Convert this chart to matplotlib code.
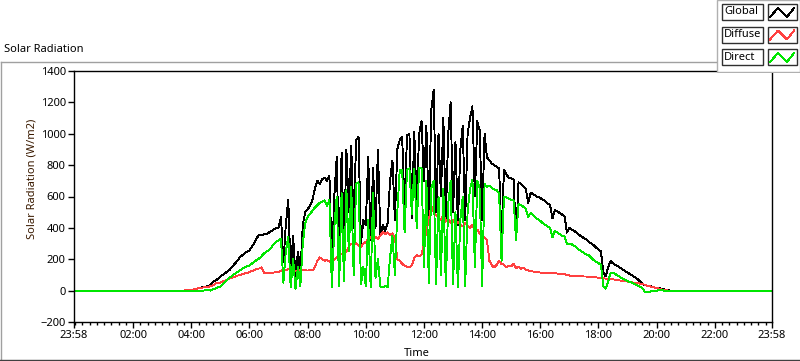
import matplotlib
matplotlib.use("Agg")
import matplotlib.pyplot as plt
from matplotlib.patches import Rectangle
from matplotlib.lines import Line2D
import numpy as np

# 5 minute samples, 03:00 .. 20:55, one row per hour (W/m2)
global_rad = [
    0, 0, 0, 0, 0, 0, 0, 0, 0, 0, 3, 5,                                  # 03
    6, 8, 12, 15, 19, 22, 26, 30, 35, 55, 65, 75,                         # 04
    90, 100, 112, 124, 135, 155, 172, 190, 212, 225, 238, 248,            # 05
    257, 280, 305, 335, 355, 352, 360, 362, 370, 380, 390, 400,           # 06
    400, 470, 180, 420, 580, 120, 350, 90, 250, 110, 420, 500,            # 07
    520, 540, 580, 650, 700, 680, 710, 720, 700, 730, 150, 600,           # 08
    850, 120, 880, 250, 900, 500, 920, 400, 960, 980, 300, 450,           # 09
    420, 850, 320, 780, 400, 900, 350, 420, 380, 430, 700, 830,           # 10
    450, 900, 960, 980, 520, 990, 1000, 460, 1010, 550, 1000, 1080,       # 11
    700, 1050, 450, 1150, 1280, 500, 1000, 600, 1100, 450, 1000, 1200,    # 12
    500, 950, 420, 900, 1050, 450, 1000, 1100, 1175, 600, 1080, 1020,     # 13
    450, 1000, 850, 830, 810, 800, 790, 780, 330, 770, 740, 720,          # 14
    715, 710, 320, 690, 680, 665, 650, 560, 625, 615, 605, 597,           # 15
    590, 580, 570, 555, 548, 460, 515, 505, 495, 485, 475, 370,           # 16
    400, 390, 380, 370, 355, 345, 335, 325, 310, 300, 290, 275,           # 17
    262, 250, 120, 90, 150, 190, 173, 165, 155, 145, 135, 125,            # 18
    115, 105, 95, 85, 75, 60, 45, 35, 32, 30, 25, 20,                     # 19
    18, 15, 12, 8, 5, 2, 0, 0, 0, 0, 0, 0,                                # 20
]

diffuse_rad = [
    0, 0, 0, 0, 0, 0, 0, 0, 0, 0, 3, 5,                                  # 03
    6, 8, 12, 15, 18, 20, 22, 25, 28, 35, 45, 50,                         # 04
    51, 58, 65, 72, 78, 83, 88, 95, 100, 105, 109, 112,                   # 05
    118, 125, 132, 138, 141, 148, 115, 112, 109, 112, 115, 118,           # 06
    120, 125, 135, 128, 140, 130, 135, 125, 130, 128, 135, 130,           # 07
    128, 130, 128, 150, 190, 212, 200, 190, 195, 185, 200, 195,           # 08
    212, 230, 237, 225, 250, 280, 300, 290, 302, 285, 276, 300,           # 09
    310, 330, 340, 320, 345, 330, 350, 372, 360, 372, 355, 365,           # 10
    340, 200, 193, 170, 160, 150, 148, 160, 210, 225, 220, 230,           # 11
    302, 380, 450, 540, 500, 480, 470, 450, 490, 440, 460, 430,           # 12
    450, 420, 440, 420, 410, 430, 415, 400, 420, 380, 390, 360,           # 13
    350, 340, 320, 190, 160, 148, 165, 190, 170, 165, 150, 160,           # 14
    155, 170, 145, 150, 140, 145, 135, 128, 125, 122, 120, 118,           # 15
    115, 114, 112, 112, 110, 112, 110, 109, 108, 108, 105, 100,           # 16
    96, 95, 94, 93, 92, 91, 90, 90, 88, 87, 86, 85,                       # 17
    82, 80, 78, 77, 76, 74, 72, 70, 67, 64, 62, 60,                       # 18
    58, 55, 52, 50, 48, 45, 42, 38, 32, 28, 24, 20,                       # 19
    17, 12, 8, 4, 2, 0, 0, 0, 0, 0, 0, 0,                                 # 20
]

direct_rad = [
    0, 0, 0, 0, 0, 0, 0, 0, 0, 0, 0, 0,                                  # 03
    0, 0, 0, 0, 0, 0, 3, 5, 0, 8, 15, 20,                                 # 04
    26, 40, 55, 70, 85, 96, 108, 118, 128, 138, 148, 155,                 # 05
    160, 172, 185, 195, 205, 220, 237, 250, 257, 275, 295, 310,           # 06
    320, 330, 50, 250, 340, 20, 200, 10, 150, 30, 300, 430,               # 07
    469, 490, 510, 530, 545, 560, 565, 575, 540, 578, 20, 400,            # 08
    600, 30, 620, 60, 640, 250, 660, 100, 680, 690, 40, 150,              # 09
    30, 450, 20, 620, 80, 200, 25, 20, 30, 20, 210, 350,                  # 10
    100, 500, 770, 770, 370, 770, 780, 490, 775, 400, 780, 780,           # 11
    150, 700, 50, 650, 700, 40, 600, 100, 650, 30, 550, 700,              # 12
    40, 500, 20, 450, 600, 30, 500, 650, 706, 150, 700, 650,              # 13
    30, 680, 660, 670, 655, 645, 640, 620, 190, 600, 595, 585,            # 14
    580, 575, 321, 555, 545, 535, 520, 470, 495, 480, 465, 455,           # 15
    445, 430, 420, 410, 400, 340, 380, 370, 360, 350, 345, 300,           # 16
    300, 295, 285, 275, 260, 250, 240, 230, 225, 210, 195, 185,           # 17
    175, 165, 30, 13, 60, 110, 115, 105, 95, 85, 78, 70,                  # 18
    62, 55, 48, 40, 32, 25, 19, -6, -10, -8, -3, 0,                       # 19
    0, 2, 3, 0, 0, 0, 0, 0, 0, 0, 0, 0,                                   # 20
]

series_names = ["Global", "Diffuse", "Direct"]
series_colors = ["#000000", "#ff4040", "#00e600"]

x_tick_hours = [-2 / 60, 2, 4, 6, 8, 10, 12, 14, 16, 18, 20, 22, 24 - 2 / 60]
x_tick_labels = ["23:58", "02:00", "04:00", "06:00", "08:00", "10:00", "12:00",
                 "14:00", "16:00", "18:00", "20:00", "22:00", "23:58"]
y_ticks = [-200, 0, 200, 400, 600, 800, 1000, 1200, 1400]

W, H = 800, 361
FS = 8


def fx(px):
    return px / W


def fy(py):
    return 1 - py / H


def main():
    plt.rcParams['font.family'] = ['Noto Sans', 'DejaVu Sans']
    fig = plt.figure(figsize=(W / 100, H / 100), dpi=100)

    # outer frame of the chart panel
    fig.add_artist(Line2D([fx(0.5), fx(716)], [fy(61.5), fy(61.5)], color="#a0a0a0", lw=1))
    fig.add_artist(Line2D([fx(0.5), fx(0.5)], [fy(61.5), fy(360)], color="#a0a0a0", lw=1))
    fig.add_artist(Line2D([fx(0), fx(800)], [fy(360), fy(360)], color="#404040", lw=1))
    fig.text(fx(4), fy(50), "Solar Radiation", fontsize=FS, va="center", ha="left")

    ax = fig.add_axes([fx(74), fy(322), fx(772 - 74), (322 - 71) / H])
    t = 3 + np.arange(len(global_rad)) * 5 / 60
    t = np.concatenate(([-2 / 60], t, [24 - 2 / 60]))
    for vals, name, col in zip([global_rad, diffuse_rad, direct_rad], series_names, series_colors):
        v = np.concatenate(([0], vals, [0]))
        ax.plot(t, v, color=col, lw=0.65, label=name, antialiased=False)

    ax.set_xlim(-2 / 60, 24 - 2 / 60)
    ax.set_ylim(-200, 1400)
    ax.set_yticks(y_ticks)
    ax.set_xticks(x_tick_hours)
    ax.set_xticklabels(x_tick_labels)
    ax.set_xticks(np.arange(0, 24, 0.25), minor=True)
    ax.tick_params(axis="both", which="major", direction="out", length=4, width=1,
                   labelsize=FS, pad=2)
    ax.tick_params(axis="x", which="minor", direction="out", length=2.5, width=1)
    for s in ax.spines.values():
        s.set_color("black")
        s.set_linewidth(1)

    fig.text(fx(417), fy(353), "Time", fontsize=FS, ha="center", va="center")
    fig.text(fx(32), fy(179), "Solar Radiation (W/m2)", fontsize=FS, rotation=90,
             ha="center", va="center", color="#3a1a00")

    # LabVIEW style plot legend in the top right corner
    lg = fig.add_axes([fx(716), fy(73), fx(84), 73 / H])
    lg.set_xlim(716, 800)
    lg.set_ylim(73, 0)
    lg.axis("off")
    lg.add_patch(Rectangle((717, 0), 83, 72, facecolor="white", edgecolor="#b0b0b0", lw=1))
    for i, (name, col) in enumerate(zip(series_names, series_colors)):
        top = 4 + i * 22.5
        lg.add_patch(Rectangle((722, top), 41, 16, facecolor="white", edgecolor="#303030", lw=1))
        lg.text(724, top + 8, name, fontsize=FS, va="center", ha="left")
        lg.add_patch(Rectangle((768, top), 29, 16, facecolor="white", edgecolor="#303030", lw=1))
        lg.plot([770, 778, 787, 794], [top + 13, top + 4, top + 13, top + 4],
                color=col, lw=0.65, antialiased=False)

    fig.savefig("out.png", dpi=100)
    plt.close(fig)


if __name__ == "__main__":
    main()
